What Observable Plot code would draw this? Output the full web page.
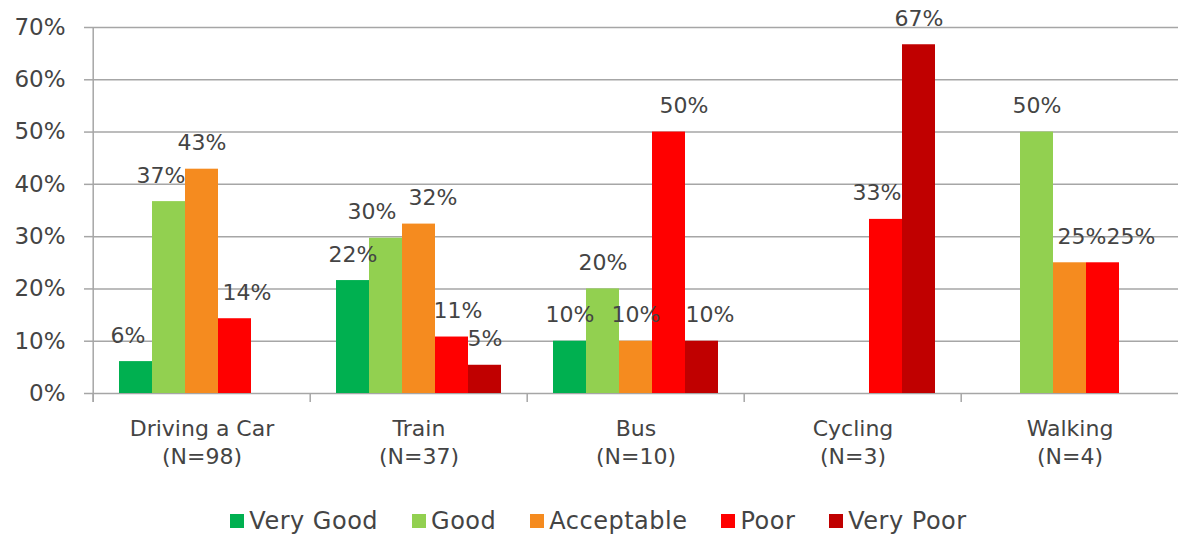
<!DOCTYPE html>
<html><head><meta charset="utf-8">
<script src="https://cdn.jsdelivr.net/npm/d3@7"></script>
<script src="https://cdn.jsdelivr.net/npm/@observablehq/plot@0.6"></script>
<style>
body{margin:0;background:#fff;}
#chart svg{display:block;}
#legend > div{justify-content:center;margin:0 !important;padding-left:52px;letter-spacing:0.5px;}
#legend span[class$="-swatch"]{margin-right:34px !important;}
#legend span[class$="-swatch"] > svg{margin-right:5px !important;}
</style></head><body><div id="chart"></div><div id="legend"></div>
<script>
const modes = ["Driving a Car","Train","Bus","Cycling","Walking"];
const sampleSizes = [98,37,10,3,4];
const ratings = ["Very Good","Good","Acceptable","Poor","Very Poor"];
const colors = ["#00b050","#92d050","#f58b1f","#ff0000","#c00000"];
const veryGood   = [6.1, 21.6, 10, null, null];
const good       = [36.7, 29.7, 20, null, 50];
const acceptable = [42.9, 32.4, 10, null, 25];
const poor       = [14.3, 10.8, 50, 33.3, 25];
const veryPoor   = [null, 5.4, 10, 66.7, null];
const yTicks = [0,10,20,30,40,50,60,70];

// label nudges (style only, in pixels), as placed by hand in the original
const labelNudge = {
  "Driving a Car|Very Good": -8, "Driving a Car|Good": -8, "Driving a Car|Poor": 12,
  "Train|Good": -14, "Train|Acceptable": 14, "Train|Poor": 6,
  "Bus|Poor": 15, "Bus|Very Poor": 8,
  "Cycling|Poor": -9,
  "Walking|Acceptable": 12, "Walking|Poor": 28
};

const series = [veryGood, good, acceptable, poor, veryPoor];
const data = modes.flatMap((m, i) => ratings.map((r, j) => ({mode: m, rating: r, value: series[j][i]})))
  .filter(d => d.value != null);
const nudgeOf = d => labelNudge[d.mode + "|" + d.rating] || 0;

const W = 1179, H = 504, ML = 91, MR = 0, MT = 27, MB = 111;
const halfFacet = (W - ML - MR) / modes.length / 2;
const gridColor = "#a6a6a6", textColor = "#444";
const font = "DejaVu Sans";

const labelMarks = Array.from(new Set(data.map(nudgeOf))).map(n =>
  Plot.text(data.filter(d => nudgeOf(d) === n), {fx: "mode", x: "rating", y: "value",
    text: d => Math.round(d.value) + "%", dx: n, dy: -26, fill: textColor, fontSize: 22}));

const chart = Plot.plot({
  width: W, height: H,
  marginLeft: ML, marginRight: MR, marginTop: MT, marginBottom: MB,
  style: {fontFamily: font, fontSize: "22px", color: textColor, background: "#fff"},
  fx: {domain: modes, paddingInner: 0, paddingOuter: 0, axis: null, label: null},
  x: {domain: ratings, paddingInner: 0, paddingOuter: 0.75, axis: null, label: null},
  y: {domain: [0, 70], axis: null, label: null},
  color: {domain: ratings, range: colors},
  marks: [
    Plot.ruleY(yTicks, {stroke: gridColor, strokeWidth: 1.5}),
    Plot.barY(data, {fx: "mode", x: "rating", y: "value", fill: "rating"}),
    ...labelMarks,
    Plot.ruleX([0], {x: null, y1: 0, y2: 0, insetBottom: -9, dx: -halfFacet, stroke: gridColor, strokeWidth: 1.5}),
    Plot.ruleX([modes[0]], {fx: d => d, x: null, y1: 70, y2: 0, insetBottom: -9, dx: -halfFacet, stroke: gridColor, strokeWidth: 1.5}),
    Plot.axisY({ticks: yTicks, tickSize: 9, tickPadding: 19, tickFormat: d => d + "%",
      stroke: gridColor, strokeWidth: 1.5, fill: textColor, fontSize: 23, label: null}),
    Plot.axisFx({anchor: "bottom", tickSize: 0, tickPadding: 22, lineHeight: 1.3, fontSize: 22, fill: textColor, label: null,
      tickFormat: d => `${d}\n(N=${sampleSizes[modes.indexOf(d)]})`})
  ]
});
document.getElementById("chart").appendChild(chart);

const legend = Plot.legend({
  color: {domain: ratings, range: colors},
  legend: "swatches", swatchSize: 14,
  style: {fontFamily: font, fontSize: "24px", color: textColor}
});
document.getElementById("legend").appendChild(legend);
</script></body></html>
